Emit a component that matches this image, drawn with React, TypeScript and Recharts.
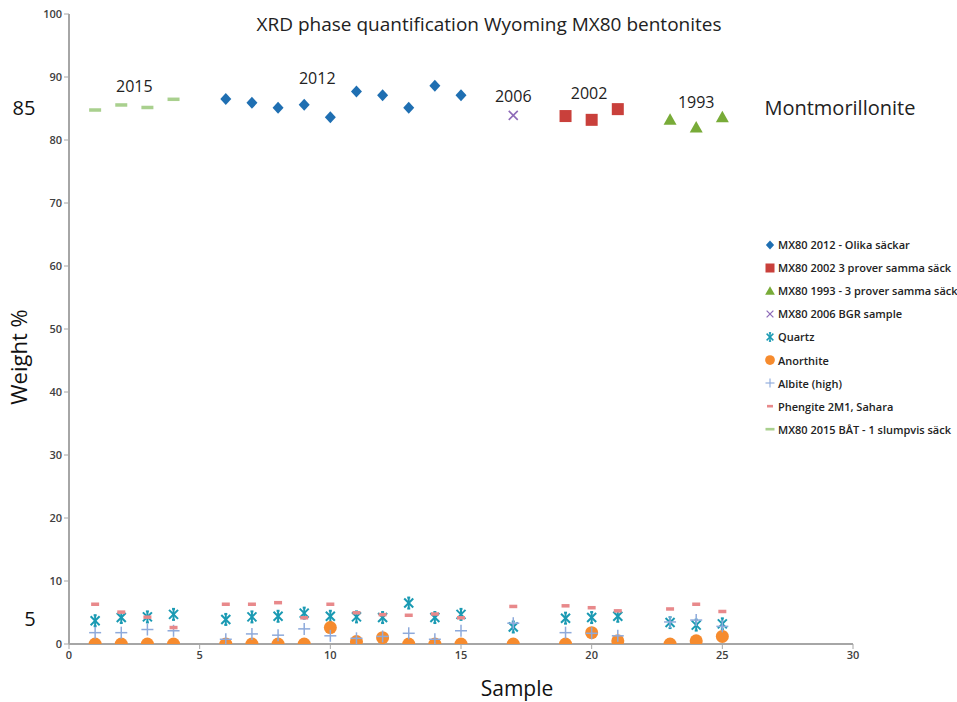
import React from "react";
import {
  ScatterChart,
  Scatter,
  XAxis,
  YAxis,
  Legend,
  ReferenceDot,
} from "recharts";

// ---- data ----
const samples2015 = [1, 2, 3, 4];
const mont2015 = [84.8, 85.6, 85.2, 86.5];

const samples2012 = [6, 7, 8, 9, 10, 11, 12, 13, 14, 15];
const mont2012 = [86.5, 85.9, 85.1, 85.6, 83.6, 87.7, 87.1, 85.1, 88.6, 87.1];

const samples2006 = [17];
const mont2006 = [83.9];

const samples2002 = [19, 20, 21];
const mont2002 = [83.8, 83.2, 84.9];

const samples1993 = [23, 24, 25];
const mont1993 = [83.2, 82.0, 83.6];

const mineralSamples = [1, 2, 3, 4, 6, 7, 8, 9, 10, 11, 12, 13, 14, 15, 17, 19, 20, 21, 23, 24, 25];
const quartz = [3.7, 4.2, 4.3, 4.7, 3.9, 4.3, 4.4, 4.9, 4.4, 4.3, 4.2, 6.5, 4.2, 4.7, 2.7, 4.1, 4.2, 4.4, 3.4, 3.0, 3.2];
const anorthite = [0, 0, 0, 0, 0, 0, 0, 0, 2.6, 0.4, 1.0, 0, 0, 0, 0, 0, 1.8, 0.5, 0, 0.5, 1.2];
const albite = [1.8, 1.8, 2.3, 2.1, 0.75, 1.6, 1.4, 2.4, 1.3, 0.9, 1.2, 1.7, 0.75, 2.1, 3.3, 1.8, 1.7, 1.3, 3.5, 3.8, 2.8];
const phengite = [6.35, 5.1, 4.3, 2.65, 6.35, 6.35, 6.6, 4.2, 6.35, 5.0, 4.7, 4.6, 4.8, 4.2, 6.0, 6.1, 5.8, 5.3, 5.6, 6.35, 5.2];

const xTicks = [0, 5, 10, 15, 20, 25, 30];
const yTicks = [0, 10, 20, 30, 40, 50, 60, 70, 80, 90, 100];

const yearLabels = ["2015", "2012", "2006", "2002", "1993"];
const yearLabelX = [2.5, 9.5, 17.0, 19.9, 24.0];
const yearLabelY = [88.6, 89.8, 87.0, 87.5, 86.0];

const toPoints = (xs: number[], ys: number[]) => xs.map((x, i) => ({ x, y: ys[i] }));

// ---- shapes ----
type ShapeProps = { cx?: number; cy?: number };

const Diamond = ({ cx = 0, cy = 0 }: ShapeProps) => (
  <polygon points={`${cx},${cy - 6} ${cx + 5.5},${cy} ${cx},${cy + 6} ${cx - 5.5},${cy}`} fill="#1f6fb2" />
);
const Square = ({ cx = 0, cy = 0 }: ShapeProps) => (
  <rect x={cx - 6} y={cy - 6} width={12} height={12} fill="#c9403b" />
);
const Triangle = ({ cx = 0, cy = 0 }: ShapeProps) => (
  <polygon points={`${cx},${cy - 6.5} ${cx + 6.5},${cy + 5} ${cx - 6.5},${cy + 5}`} fill="#78ab38" />
);
const XMark = ({ cx = 0, cy = 0 }: ShapeProps) => (
  <g stroke="#8e6bb8" strokeWidth={1.6}>
    <line x1={cx - 4.5} y1={cy - 4.5} x2={cx + 4.5} y2={cy + 4.5} />
    <line x1={cx - 4.5} y1={cy + 4.5} x2={cx + 4.5} y2={cy - 4.5} />
  </g>
);
const Star = ({ cx = 0, cy = 0 }: ShapeProps) => (
  <g stroke="#1a9ab3" strokeWidth={2}>
    <line x1={cx - 4.5} y1={cy - 4.5} x2={cx + 4.5} y2={cy + 4.5} />
    <line x1={cx - 4.5} y1={cy + 4.5} x2={cx + 4.5} y2={cy - 4.5} />
    <line x1={cx} y1={cy - 5.5} x2={cx} y2={cy + 5.5} />
    <line x1={cx - 1.5} y1={cy - 5.5} x2={cx + 1.5} y2={cy - 5.5} />
    <line x1={cx - 1.5} y1={cy + 5.5} x2={cx + 1.5} y2={cy + 5.5} />
  </g>
);
const Dot = ({ cx = 0, cy = 0 }: ShapeProps) => <circle cx={cx} cy={cy} r={6.5} fill="#f68b2e" />;
const Plus = ({ cx = 0, cy = 0 }: ShapeProps) => (
  <g stroke="#8eaadb" strokeWidth={1.5}>
    <line x1={cx - 6} y1={cy} x2={cx + 6} y2={cy} />
    <line x1={cx} y1={cy - 6} x2={cx} y2={cy + 6} />
  </g>
);
const PinkDash = ({ cx = 0, cy = 0 }: ShapeProps) => (
  <rect x={cx - 4} y={cy - 1.5} width={8} height={3.5} fill="#e8898b" />
);
const GreenDash = ({ cx = 0, cy = 0 }: ShapeProps) => (
  <rect x={cx - 6} y={cy - 1.5} width={12} height={3.5} fill="#a9d08e" />
);

const series = [
  { name: "MX80 2012 - Olika säckar", data: toPoints(samples2012, mont2012), Shape: Diamond },
  { name: "MX80 2002 3 prover samma säck", data: toPoints(samples2002, mont2002), Shape: Square },
  { name: "MX80 1993 - 3 prover samma säck", data: toPoints(samples1993, mont1993), Shape: Triangle },
  { name: "MX80 2006 BGR sample", data: toPoints(samples2006, mont2006), Shape: XMark },
  { name: "Quartz", data: toPoints(mineralSamples, quartz), Shape: Star },
  { name: "Anorthite", data: toPoints(mineralSamples, anorthite), Shape: Dot },
  { name: "Albite (high)", data: toPoints(mineralSamples, albite), Shape: Plus },
  { name: "Phengite 2M1, Sahara", data: toPoints(mineralSamples, phengite), Shape: PinkDash },
  { name: "MX80 2015 BÅT - 1 slumpvis säck", data: toPoints(samples2015, mont2015), Shape: GreenDash },
];

const FONT = "'Open Sans', 'Liberation Sans', sans-serif";

const LegendContent = () => (
  <div style={{ fontFamily: FONT, fontSize: 11, fontWeight: 600, color: "#222" }}>
    {series.map((s) => (
      <div key={s.name} style={{ height: 23.1, display: "flex", alignItems: "center", whiteSpace: "nowrap" }}>
        <svg width={14} height={16} style={{ marginRight: 1 }}>
          <g transform="translate(7,8) scale(0.75) translate(-7,-8)">
            <s.Shape cx={7} cy={8} />
          </g>
        </svg>
        <span>{s.name}</span>
      </div>
    ))}
  </div>
);

const YearLabel = (props: any) => {
  const { viewBox, value, size } = props;
  const x = viewBox.x + (viewBox.width || 0) / 2;
  const y = viewBox.y + (viewBox.height || 0) / 2;
  return (
    <text x={x} y={y} textAnchor="middle" dominantBaseline="central" fontFamily={FONT} fontSize={size || 15} fill="#222">
      {value}
    </text>
  );
};

const tickStyle = { fontFamily: FONT, fontSize: 11, fill: "#404040", fontWeight: 600 };

export default function App() {
  return (
    <div style={{ position: "absolute", left: 0, top: 0, width: 957, height: 702, background: "#fff" }}>
      <ScatterChart width={957} height={702} margin={{ top: 14, right: 104, bottom: 28, left: 29 }}>
        <XAxis
          type="number"
          dataKey="x"
          domain={[0, 30]}
          ticks={xTicks}
          allowDataOverflow
          height={30}
          axisLine={{ stroke: "#a6a6a6", strokeWidth: 2 }}
          tickLine={{ stroke: "#a6a6a6" }}
          tickSize={5}
          tick={tickStyle}
        />
        <YAxis
          type="number"
          dataKey="y"
          domain={[0, 100]}
          ticks={yTicks}
          allowDataOverflow
          width={40}
          axisLine={{ stroke: "#a6a6a6", strokeWidth: 2 }}
          tickLine={{ stroke: "#a6a6a6" }}
          tickSize={5}
          tick={tickStyle}
        />
        {series.map((s) => (
          <Scatter
            key={s.name}
            name={s.name}
            data={s.data}
            isAnimationActive={false}
            shape={(p: any) => <s.Shape cx={p.cx} cy={p.cy} />}
          />
        ))}
        {yearLabels.map((t, i) => (
          <ReferenceDot
            key={t}
            x={yearLabelX[i]}
            y={yearLabelY[i]}
            r={0}
            fill="none"
            stroke="none"
            label={<YearLabel value={t} size={16} />}
          />
        ))}
        <ReferenceDot
          x={29.5}
          y={85.2}
          r={0}
          fill="none"
          stroke="none"
          label={<YearLabel value="Montmorillonite" size={20} />}
        />
        <Legend
          layout="vertical"
          align="center"
          verticalAlign="middle"
          content={<LegendContent />}
          wrapperStyle={{ left: 763, top: 233, width: 200 }}
        />
      </ScatterChart>
      <div
        style={{
          position: "absolute",
          left: 489,
          top: 24,
          transform: "translate(-50%, -50%)",
          fontFamily: FONT,
          fontSize: 19,
          color: "#222",
          whiteSpace: "nowrap",
        }}
      >
        XRD phase quantification Wyoming MX80 bentonites
      </div>
      <div
        style={{
          position: "absolute",
          left: 18,
          top: 357,
          transform: "translate(-50%, -50%) rotate(-90deg)",
          fontFamily: FONT,
          fontSize: 22,
          color: "#111",
          whiteSpace: "nowrap",
        }}
      >
        Weight %
      </div>
      <div
        style={{
          position: "absolute",
          left: 517,
          top: 688,
          transform: "translate(-50%, -50%)",
          fontFamily: FONT,
          fontSize: 21,
          color: "#111",
          whiteSpace: "nowrap",
        }}
      >
        Sample
      </div>
      <div
        style={{
          position: "absolute",
          left: 24,
          top: 107,
          transform: "translate(-50%, -50%)",
          fontFamily: FONT,
          fontSize: 20,
          color: "#111",
        }}
      >
        85
      </div>
      <div
        style={{
          position: "absolute",
          left: 30,
          top: 618,
          transform: "translate(-50%, -50%)",
          fontFamily: FONT,
          fontSize: 20,
          color: "#111",
        }}
      >
        5
      </div>
    </div>
  );
}
